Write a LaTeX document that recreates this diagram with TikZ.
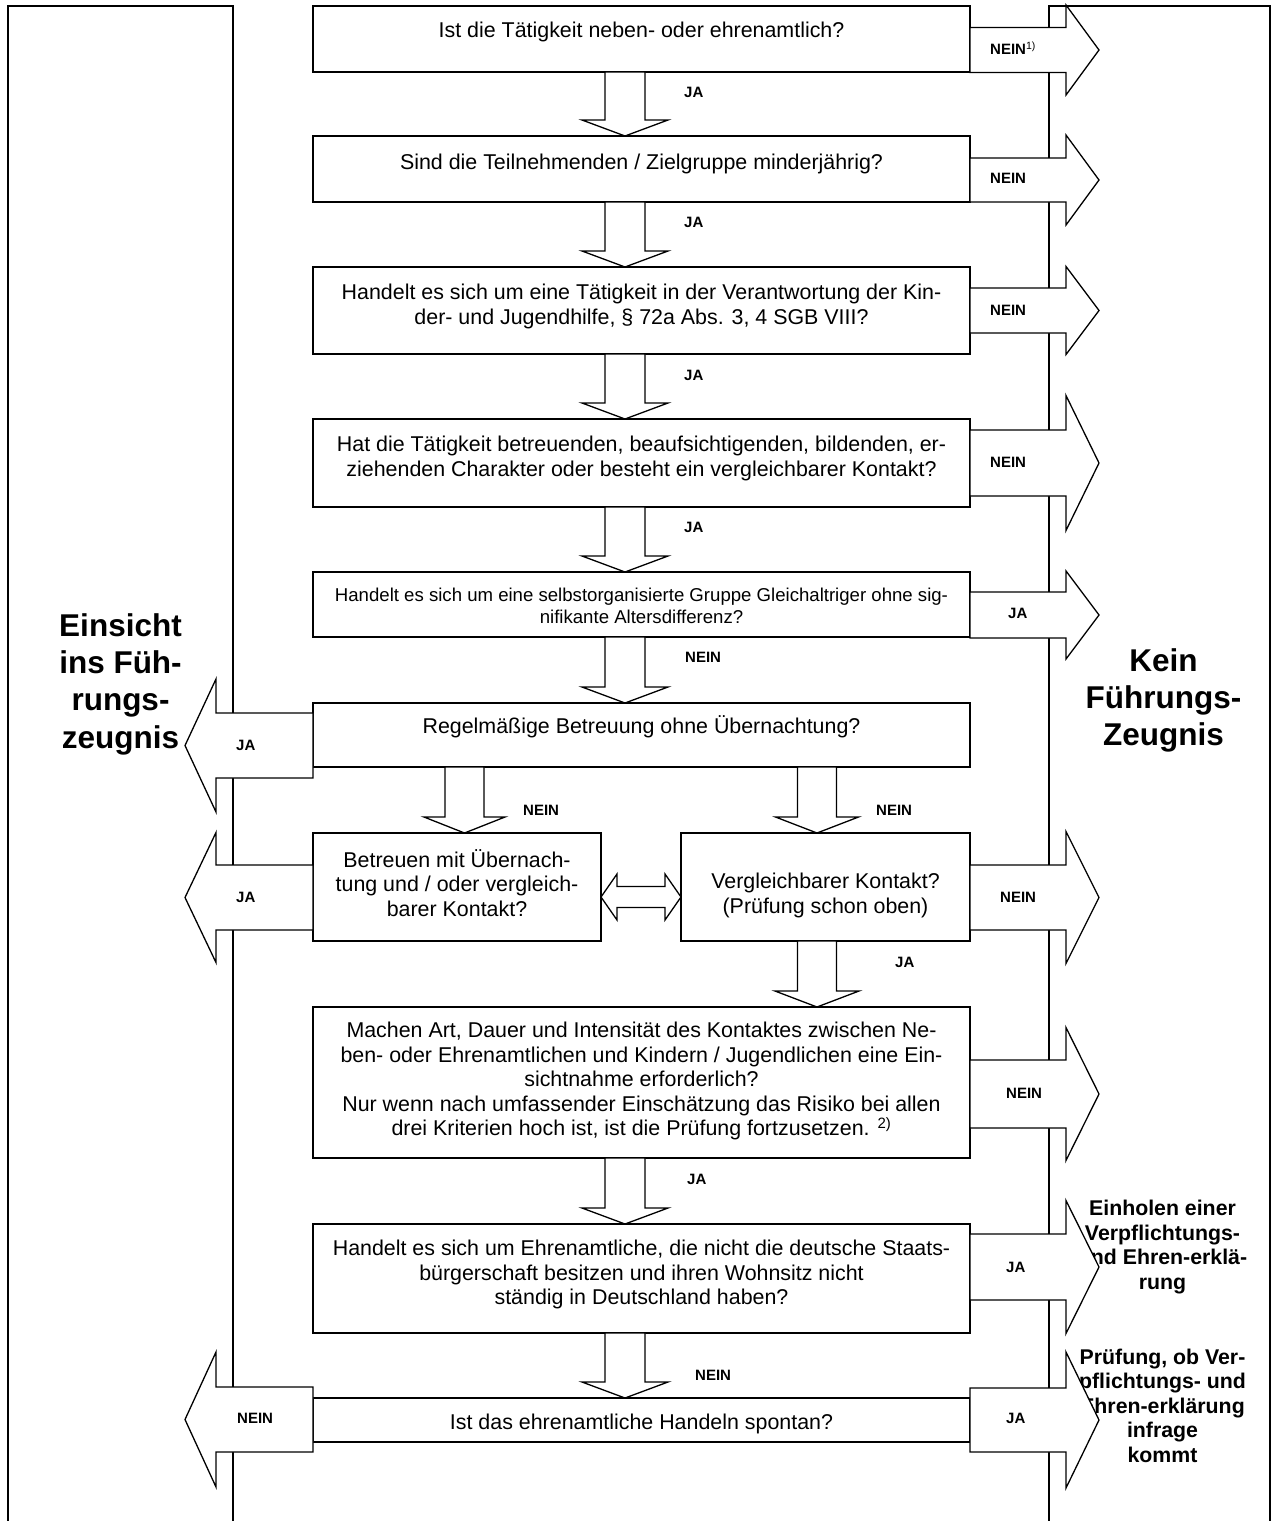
\documentclass[tikz,border=0pt]{standalone}
\usepackage{fontspec}
\setmainfont{Liberation Sans}
\usetikzlibrary{calc}

% Blockpfeile
\newcommand{\pfeilab}[5]{%
  \draw[blockpfeil] let \p1=(#1.south), \p2=(#2.north) in
    (#3pt-#4pt,\y1) -- (#3pt-#4pt,\y2+16pt) -- (#3pt-#5pt,\y2+16pt) -- (#3pt,\y2)
    -- (#3pt+#5pt,\y2+16pt) -- (#3pt+#4pt,\y2+16pt) -- (#3pt+#4pt,\y1) -- cycle;}
\newcommand{\pfeilre}[4]{%
  \draw[blockpfeil] let \p1=(#1.east), \p2=(spitzeR) in
    (\x1,-#2pt+#3pt) -- (\x2-33pt,-#2pt+#3pt) -- (\x2-33pt,-#2pt+#4pt) -- (\x2,-#2pt)
    -- (\x2-33pt,-#2pt-#4pt) -- (\x2-33pt,-#2pt-#3pt) -- (\x1,-#2pt-#3pt) -- cycle;}
\newcommand{\pfeilli}[4]{%
  \draw[blockpfeil] let \p1=(#1.west), \p2=(spitzeL) in
    (\x1,-#2pt+#3pt) -- (\x2+31pt,-#2pt+#3pt) -- (\x2+31pt,-#2pt+#4pt) -- (\x2,-#2pt)
    -- (\x2+31pt,-#2pt-#4pt) -- (\x2+31pt,-#2pt-#3pt) -- (\x1,-#2pt-#3pt) -- cycle;}

\begin{document}
\begin{tikzpicture}[x=1pt,y=-1pt,
    rahmen/.style={line width=1.8pt},
    frage/.style={draw,line width=2pt,outer sep=0pt,inner sep=0pt,minimum width=657pt},
    fragetext/.style={align=center,inner sep=0pt,font=\fontsize{21.4}{24.5}\selectfont},
    marke/.style={anchor=west,inner sep=0pt,text height=10.7pt,text depth=0pt,font=\bfseries\fontsize{15}{18}\selectfont},
    ziel/.style={align=center,inner sep=0pt,font=\bfseries\fontsize{31.5}{37.3}\selectfont},
    zielklein/.style={align=center,inner sep=0pt,font=\bfseries\fontsize{21.3}{24.5}\selectfont},
    blockpfeil/.style={draw,line width=1.3pt,fill=white,line join=miter}]
  \useasboundingbox (0,0) rectangle (1278,1521);
  \coordinate (spitzeL) at (185,0);
  \coordinate (spitzeR) at (1099,0);

  \draw[rahmen] (8,1521) -- (8,6) -- (233,6) -- (233,1521);
  \draw[rahmen] (1049,1521) -- (1049,6) -- (1270,6) -- (1270,1521);

  \node[ziel] (einsicht) at (120.5,684) {Einsicht\\ins Füh-\\rungs-\\zeugnis};
  \node[ziel] (kein) at (1163.5,700.5) {Kein\\Führungs-\\Zeugnis};
  \node[zielklein] (einholen) at (1162.5,1247) {Einholen einer\\Verpflichtungs-\\und Ehren-erklä-\\rung};
  \node[zielklein] (pruefung) at (1162.5,1405.5) {Prüfung, ob Ver-\\pflichtungs- und\\Ehren-erklärung\\infrage\\kommt};

  \node[frage,minimum height=66pt] (q1) at (641.5,39) {};
  \node[frage,minimum height=66pt] (q2) at (641.5,169) {};
  \node[frage,minimum height=87pt] (q3) at (641.5,310.5) {};
  \node[frage,minimum height=88pt] (q4) at (641.5,463) {};
  \node[frage,minimum height=65pt] (q5) at (641.5,604.5) {};
  \node[frage,minimum height=64pt] (q6) at (641.5,735) {};
  \node[frage,minimum width=288pt,minimum height=108pt] (q7a) at (457,887) {};
  \node[frage,minimum width=289pt,minimum height=108pt] (q7b) at (825.5,887) {};
  \node[frage,minimum height=151pt] (q8) at (641.5,1082.5) {};
  \node[frage,minimum height=109pt] (q9) at (641.5,1278.5) {};
  \node[frage,minimum height=44pt] (q10) at (641.5,1420) {};

  \node[fragetext] (t1) at (641.5,32) {Ist die Tätigkeit neben- oder ehrenamtlich?};
  \node[fragetext] (t2) at (641.5,164) {Sind die Teilnehmenden / Zielgruppe minderjährig?};
  \node[fragetext] (t3) at (641.5,306.5) {Handelt es sich um eine Tätigkeit in der Verantwortung der Kin-\\der- und Jugendhilfe, § 72a Abs. 3, 4 SGB VIII?};
  \node[fragetext] (t4) at (641.5,458.5) {Hat die Tätigkeit betreuenden, beaufsichtigenden, bildenden, er-\\ziehenden Charakter oder besteht ein vergleichbarer Kontakt?};
  \node[fragetext,font=\fontsize{18.6}{22}\selectfont] (t5) at (641.5,606) {Handelt es sich um eine selbstorganisierte Gruppe Gleichaltriger ohne sig-\\nifikante Altersdifferenz?};
  \node[fragetext] (t6) at (641.5,727) {Regelmäßige Betreuung ohne Übernachtung?};
  \node[fragetext] (t7a) at (457,883) {Betreuen mit Übernach-\\tung und / oder vergleich-\\barer Kontakt?};
  \node[fragetext] (t7b) at (825.5,895.5) {Vergleichbarer Kontakt?\\(Prüfung schon oben)};
  \node[fragetext] (t8) at (641.5,1081) {Machen Art, Dauer und Intensität des Kontaktes zwischen Ne-\\ben- oder Ehrenamtlichen und Kindern / Jugendlichen eine Ein-\\sichtnahme erforderlich?\\Nur wenn nach umfassender Einschätzung das Risiko bei allen\\drei Kriterien hoch ist, ist die Prüfung fortzusetzen. \textsuperscript{2)}};
  \node[fragetext] (t9) at (641.5,1274.5) {Handelt es sich um Ehrenamtliche, die nicht die deutsche Staats-\\bürgerschaft besitzen und ihren Wohnsitz nicht\\ständig in Deutschland haben?};
  \node[fragetext] (t10) at (641.5,1424) {Ist das ehrenamtliche Handeln spontan?};

  \pfeilab{q1}{q2}{625}{20}{43}
  \pfeilab{q2}{q3}{625}{20}{43}
  \pfeilab{q3}{q4}{625}{20}{43}
  \pfeilab{q4}{q5}{625}{20}{43}
  \pfeilab{q5}{q6}{625}{20}{43}
  \pfeilab{q6}{q7a}{464.5}{19.5}{40.5}
  \pfeilab{q6}{q7b}{817}{19.5}{41.5}
  \pfeilab{q7b}{q8}{817}{19.5}{42}
  \pfeilab{q8}{q9}{625}{20}{43}
  \pfeilab{q9}{q10}{625}{20}{43}

  \pfeilre{q1}{50}{22.5}{45}
  \pfeilre{q2}{180}{22}{45}
  \pfeilre{q3}{310.5}{22.5}{44}
  \pfeilre{q4}{463}{33}{67.5}
  \pfeilre{q5}{615}{23}{44}
  \pfeilre{q7b}{897.5}{32.5}{66}
  \pfeilre{q8}{1094}{34}{66.5}
  \pfeilre{q9}{1267}{33}{66.5}
  \pfeilre{q10}{1420}{32}{68}

  \pfeilli{q6}{745.5}{32.5}{66.5}
  \pfeilli{q7a}{897.5}{32.5}{65}
  \pfeilli{q10}{1419.5}{32.5}{67.5}

  \draw[blockpfeil] let \p1=(q7a.east), \p2=(q7b.west) in
    (\x1,-897pt) -- (\x1+16pt,-874pt) -- (\x1+16pt,-886.5pt) -- (\x2-16pt,-886.5pt)
    -- (\x2-16pt,-874pt) -- (\x2,-897pt) -- (\x2-16pt,-920pt) -- (\x2-16pt,-907.5pt)
    -- (\x1+16pt,-907.5pt) -- (\x1+16pt,-920pt) -- cycle;

  \node[marke] (ja1) at (684,92) {JA};
  \node[marke] (ja2) at (684,222) {JA};
  \node[marke] (ja3) at (684,375) {JA};
  \node[marke] (ja4) at (684,527) {JA};
  \node[marke] (nein5) at (685,657) {NEIN};
  \node[marke] (nein6a) at (523,810) {NEIN};
  \node[marke] (nein6b) at (876,810) {NEIN};
  \node[marke] (ja7b) at (895,962) {JA};
  \node[marke] (ja8) at (687,1179) {JA};
  \node[marke] (nein9) at (695,1375) {NEIN};

  \node[marke] (neinr1) at (990,49) {NEIN\textsuperscript{\mdseries 1)}};
  \node[marke] (neinr2) at (990,178) {NEIN};
  \node[marke] (neinr3) at (990,310) {NEIN};
  \node[marke] (neinr4) at (990,462) {NEIN};
  \node[marke] (jar5) at (1008,613) {JA};
  \node[marke] (neinr7b) at (1000,897) {NEIN};
  \node[marke] (neinr8) at (1006,1093) {NEIN};
  \node[marke] (jar9) at (1006,1267) {JA};
  \node[marke] (jar10) at (1006,1418) {JA};

  \node[marke] (jal6) at (236,745) {JA};
  \node[marke] (jal7a) at (236,897) {JA};
  \node[marke] (neinl10) at (237,1418) {NEIN};
\end{tikzpicture}
\end{document}
